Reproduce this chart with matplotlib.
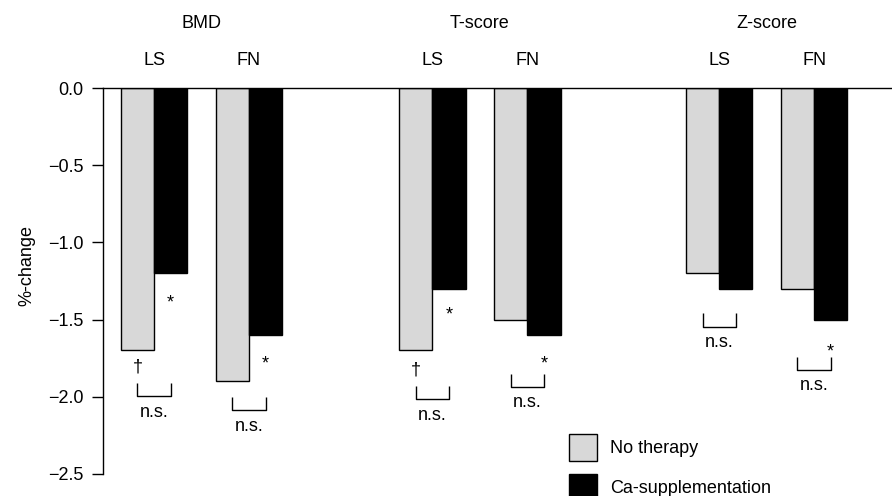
import matplotlib
matplotlib.use("Agg")
import matplotlib.pyplot as plt

plt.rcParams["font.family"] = ["Liberation Sans", "DejaVu Sans"]
plt.rcParams["font.size"] = 13

# Values (%-change)
groups = ["BMD", "T-score", "Z-score"]
sites = ["LS", "FN"]
no_therapy = [-1.7, -1.9, -1.7, -1.5, -1.2, -1.3]
ca_supp = [-1.2, -1.6, -1.3, -1.6, -1.3, -1.5]

# significance marks, one per bar pair (LS/FN of each group)
star_y = [-1.34, -1.74, -1.42, -1.74, None, -1.66]
dagger_y = [-1.79, None, -1.81, None, None, None]
bracket_top = [-1.91, -2.0, -1.93, -1.85, -1.46, -1.74]

# layout
group_pos = [0.0, 2.93, 5.95]
width = 0.35
bracket_h = 0.085
GRAY = "#d8d8d8"

fig = plt.figure(figsize=(8.92, 4.96), dpi=100)
ax = fig.add_axes([103 / 892, 1 - 474 / 496, 789 / 892, 386 / 496])

centers = [g + k for g in group_pos for k in (0, 1)]
x_gray = [c - width / 2 for c in centers]
x_black = [c + width / 2 for c in centers]

ax.bar(x_gray, no_therapy, width, color=GRAY, edgecolor="black",
       linewidth=1.0, label="No therapy")
ax.bar(x_black, ca_supp, width, color="black", edgecolor="black",
       linewidth=1.0, label="Ca-supplementation")

ax.set_ylim(-2.5, 0)
ax.set_xlim(-0.537, 7.77)
ax.set_yticks([0, -0.5, -1.0, -1.5, -2.0, -2.5])
ax.set_xticks([])
ax.spines["right"].set_visible(False)
ax.spines["bottom"].set_visible(False)
ax.spines["left"].set_bounds(-2.5, 0)
for s in ("left", "top"):
    ax.spines[s].set_linewidth(1.0)
ax.tick_params(axis="y", direction="out", length=8, width=1.0, pad=6)

ax.set_ylabel("%-change")
ax.yaxis.set_label_coords(-0.086, 0.54)

# group headers and site labels
for g, name in zip(group_pos, groups):
    ax.text(g + 0.5, 0.42, name, ha="center", va="center", clip_on=False)
for c, site in zip(centers, sites * len(groups)):
    ax.text(c, 0.18, site, ha="center", va="center", clip_on=False)

# brackets with n.s. and significance symbols
for i in range(len(centers)):
    x0, x1 = x_gray[i], x_black[i]
    top = bracket_top[i]
    bot = top - bracket_h
    ax.plot([x0, x0, x1, x1], [top, bot, bot, top], color="black",
            linewidth=1.0, solid_capstyle="butt", clip_on=False)
    ax.text((x0 + x1) / 2, bot - 0.105, "n.s.", ha="center", va="center")
    if star_y[i] is not None:
        ax.annotate("*", xy=(x1, star_y[i]), xytext=(0, -5.5),
                    textcoords="offset points", ha="center", va="center")
    if dagger_y[i] is not None:
        ax.text(x0, dagger_y[i] - 0.015, "\u2020", ha="center", va="center")

ax.legend(loc="upper left", bbox_to_anchor=(569 / 892, 1 - 434 / 496),
          bbox_transform=fig.transFigure, frameon=False, borderpad=0,
          borderaxespad=0, handlelength=1.55, handleheight=1.93,
          handletextpad=0.72, labelspacing=0.7)

fig.savefig("out.png", dpi=100)
